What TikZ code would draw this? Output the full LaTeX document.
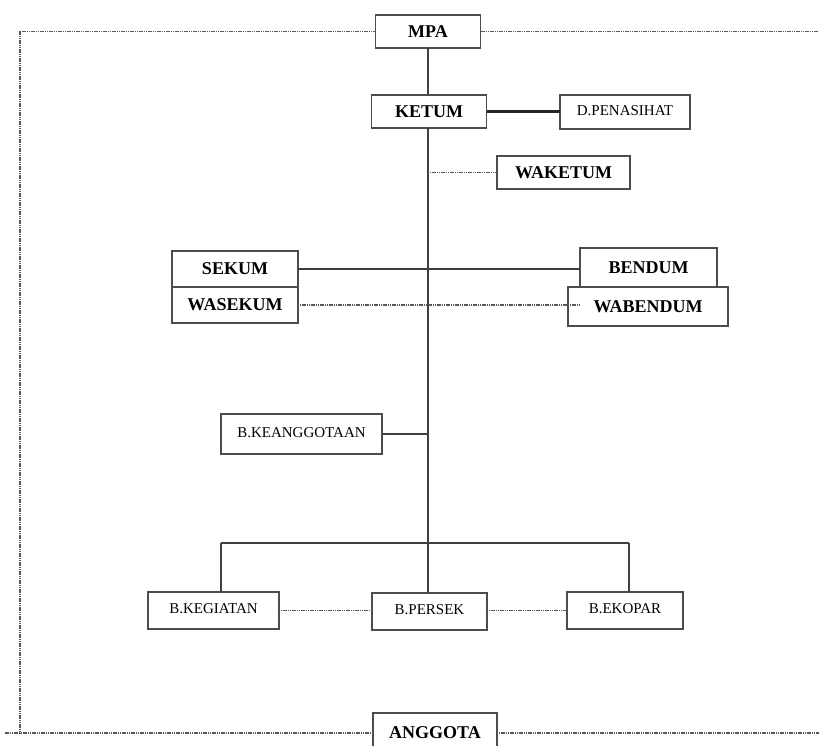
\documentclass[tikz,border=0pt]{standalone}
\usepackage{fontspec}
\setmainfont{Liberation Serif}
\begin{document}
\begin{tikzpicture}[x=1pt,y=-1pt,
  box/.style={draw=black!70,line width=1.3pt,fill=white,inner sep=0pt,outer sep=0pt},
  bl/.style={box,font=\fontsize{18}{20}\selectfont\bfseries},
  rg/.style={box,font=\fontsize{15}{17}\selectfont,text height=11pt,text depth=5pt},
  conn/.style={draw=black!75,line width=1.3pt},
  thick conn/.style={draw=black!85,line width=2.8pt},
  dots/.style={draw=black!65,line width=1.3pt,dash pattern=on 1.2pt off 0.6pt}]
\useasboundingbox[fill=white] (0,0) rectangle (819,745);
\coordinate (jw) at (428,172.5);
\coordinate (bl) at (221,543);
\coordinate (br) at (629,543);
\coordinate (wbend) at (580,305);
\coordinate (tl) at (20,31.5);
\coordinate (blc) at (20,733);
\coordinate (tr) at (819,31.5);
\coordinate (bll) at (5,733);
\coordinate (brr) at (819,733);

\node[bl,minimum width=105,minimum height=33] (mpa) at (428,31.5) {MPA};
\node[bl,minimum width=115,minimum height=33] (ketum) at (429,111.5) {KETUM};
\node[rg,minimum width=130,minimum height=34] (pen) at (625,112) {D.PENASIHAT};
\node[bl,minimum width=133,minimum height=33] (waketum) at (563.5,172.5) {WAKETUM};
\node[bl,minimum width=126,minimum height=36] (sekum) at (235,269) {SEKUM};
\node[bl,minimum width=126,minimum height=36] (wasekum) at (235,305) {WASEKUM};
\node[bl,minimum width=137,minimum height=40] (bendum) at (648.5,268) {BENDUM};
\node[rg,minimum width=161,minimum height=40] (keang) at (301.5,434) {B.KEANGGOTAAN};
\node[rg,minimum width=131,minimum height=37] (kegiatan) at (213.5,610.5) {B.KEGIATAN};
\node[rg,minimum width=115,minimum height=37] (persek) at (429.5,611.5) {B.PERSEK};
\node[rg,minimum width=116,minimum height=37] (ekopar) at (625,610.5) {B.EKOPAR};
\node[bl,minimum width=124,minimum height=40] (anggota) at (435,733) {ANGGOTA};

% solid lines
\draw[conn] (mpa.south -| jw) -- (ketum.north -| jw);
\draw[conn] (ketum.south -| jw) -- (persek.north -| jw);
\draw[thick conn] (ketum.east) -- (ketum.east -| pen.west);
\draw[conn] (sekum.east) -- (sekum.east -| bendum.west);
\draw[conn] (keang.east) -- (keang.east -| jw);
\draw[conn] (bl) -- (br);
\draw[conn] (bl) -- (bl |- kegiatan.north);
\draw[conn] (br) -- (br |- ekopar.north);
% dotted lines
\draw[dots] (jw) -- (waketum.west);
\draw[dots] (kegiatan.east) -- (kegiatan.east -| persek.west);
\draw[dots] (persek.east |- kegiatan.east) -- (kegiatan.east -| ekopar.west);
\draw[dots] (mpa.west) -- (tl) -- (blc);
\draw[dots] (mpa.east) -- (tr);
\draw[dots] (anggota.west) -- (bll);
\draw[dots] (anggota.east) -- (brr);

\node[bl,minimum width=160,minimum height=39] (wabendum) at (648,306.5) {WABENDUM};
\draw[dots] (wasekum.east) -- (wbend);
\end{tikzpicture}
\end{document}
